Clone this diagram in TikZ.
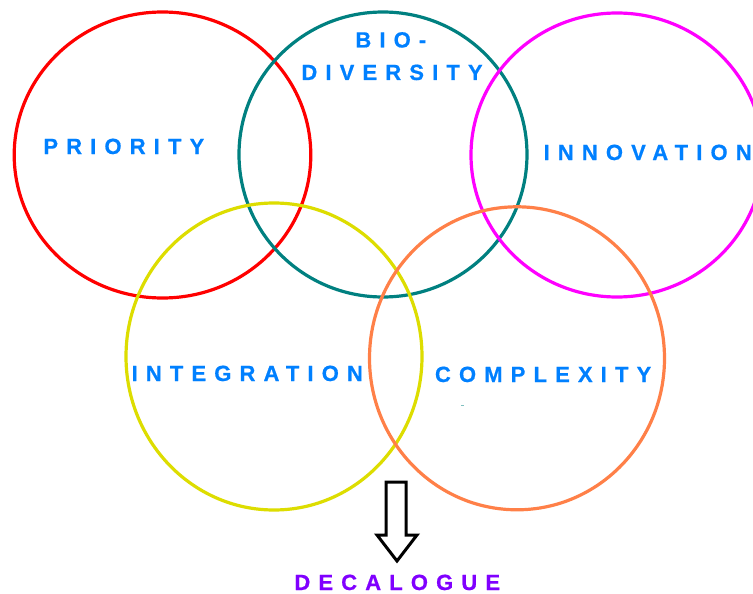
\documentclass[tikz,border=0pt]{standalone}
\usepackage{fontspec}
\setmainfont{Liberation Sans}
\newfontfamily\lblfont{Liberation Sans Bold}[LetterSpace=37,FakeBold=0.6]
\usetikzlibrary{shapes.geometric}
\definecolor{cred}{RGB}{255,0,0}
\definecolor{cteal}{RGB}{0,128,128}
\definecolor{cmag}{RGB}{255,0,255}
\definecolor{cyel}{RGB}{221,221,0}
\definecolor{corange}{RGB}{255,128,72}
\definecolor{cblue}{RGB}{0,128,255}
\definecolor{cpurple}{RGB}{128,0,255}
\tikzset{
  ring/.style={ellipse, draw, line width=3.2pt, inner sep=0pt, outer sep=0pt},
  lbl/.style={anchor=base west, inner sep=0pt, outer sep=0pt, text=cblue,
    font=\lblfont\fontsize{22}{26}\selectfont},
  blockarrow/.style={draw=black, line width=3pt, line join=miter, fill=white}
}
\begin{document}
\begin{tikzpicture}[x=1pt, y=-1pt]
\useasboundingbox (0,0) rectangle (753,594);
\fill[white] (0,0) rectangle (753,594);
\clip (0,0) rectangle (753,594);
% rings
\node[ring, draw=cred, minimum width=296.6pt, minimum height=286pt] (priority) at (162.5,155) {};
\node[ring, draw=cteal, minimum width=288pt, minimum height=285pt] (bio) at (383,154.5) {};
\node[ring, draw=cmag, minimum width=292pt, minimum height=284pt] (innov) at (617,155) {};
\node[ring, draw=cyel, minimum width=296pt, minimum height=307pt] (integ) at (274,356.5) {};
\node[ring, draw=corange, minimum width=295pt, minimum height=303pt] (compl) at (517,358.3) {};
% labels
\node[lbl] (tpriority) at (43.4,154) {PRIORITY};
\node[lbl] (tbio) at (355.4,47.5) {BIO-};
\node[lbl] (tdiv) at (301.4,80) {DIVERSITY};
\node[lbl] (tinnov) at (543.6,160) {INNOVATION};
\node[lbl] (tinteg) at (131.6,381) {INTEGRATION};
\node[lbl] (tcompl) at (435,382) {COMPLEXITY};
\node[lbl, text=cpurple] (tdeca) at (294.4,590) {DECALOGUE};
% tiny mark
\draw[cteal!50, line width=1pt] (461,405) -- (464,405);
% block arrow
\draw[blockarrow] (386,482) -- (406,482) -- (406,535) -- (417,535) -- (397,561) -- (377,535) -- (386,535) -- cycle;
\end{tikzpicture}
\end{document}
